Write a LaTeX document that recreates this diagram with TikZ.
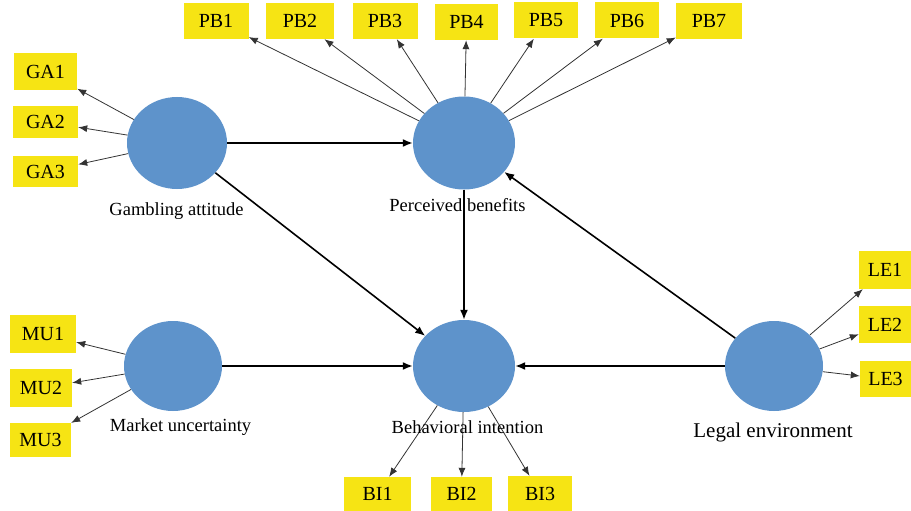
\documentclass[tikz,border=0pt]{standalone}
\usepackage{fontspec}
\setmainfont{Liberation Serif}
\usetikzlibrary{arrows.meta,shapes.geometric}
\definecolor{boxyellow}{RGB}{246,228,20}
\definecolor{latentblue}{RGB}{94,147,203}
\begin{document}
\begin{tikzpicture}[x=1pt,y=-1pt,
  indicator/.style={rectangle,fill=boxyellow,inner sep=0pt,minimum width=65pt,minimum height=36pt,font=\fontsize{20}{22}\selectfont},
  latent/.style={ellipse,fill=latentblue,inner sep=0pt},
  lvlabel/.style={anchor=base,inner sep=0pt,font=\fontsize{18.5}{20}\selectfont},
  structpath/.style={draw=black,line width=1.6pt,-{Latex[length=10pt,width=8pt]}},
  load/.style={draw=black!80,line width=0.8pt,-{Latex[length=9pt,width=7pt]}}
]
\useasboundingbox (0,0) rectangle (911,511);
% latent variables
\node[latent,minimum width=100pt,minimum height=92pt] (GA) at (177,143) {};
\node[latent,minimum width=102pt,minimum height=93pt] (PB) at (464,143) {};
\node[latent,minimum width=98pt,minimum height=90pt] (MU) at (173,366) {};
\node[latent,minimum width=102pt,minimum height=92pt] (BI) at (464,366) {};
\node[latent,minimum width=98pt,minimum height=90pt] (LE) at (774,366) {};
% indicators
\node[indicator] (PB1) at (216,21) {PB1};
\node[indicator,minimum width=68pt] (PB2) at (300,21) {PB2};
\node[indicator] (PB3) at (385,21) {PB3};
\node[indicator,minimum width=63pt] (PB4) at (466.5,22) {PB4};
\node[indicator,minimum width=64pt] (PB5) at (546,20.5) {PB5};
\node[indicator,minimum width=64pt] (PB6) at (627,20.5) {PB6};
\node[indicator,minimum width=66pt] (PB7) at (709,21) {PB7};
\node[indicator,minimum width=63pt,minimum height=37pt] (GA1) at (45.5,71.5) {GA1};
\node[indicator,minimum height=32pt] (GA2) at (45.5,122) {GA2};
\node[indicator,minimum height=31pt] (GA3) at (45.5,171.5) {GA3};
\node[indicator,minimum width=66pt,minimum height=38pt] (MU1) at (43,334) {MU1};
\node[indicator,minimum width=62pt,minimum height=38pt] (MU2) at (41,388) {MU2};
\node[indicator,minimum width=61pt,minimum height=34pt] (MU3) at (40.5,440) {MU3};
\node[indicator,minimum width=67pt,minimum height=34pt] (BI1) at (377.5,494) {BI1};
\node[indicator,minimum width=61pt,minimum height=34pt] (BI2) at (461.5,494) {BI2};
\node[indicator,minimum width=64pt,minimum height=35pt] (BI3) at (540,493.5) {BI3};
\node[indicator,minimum width=52pt,minimum height=38pt] (LE1) at (885,270) {LE1};
\node[indicator,minimum width=52pt,minimum height=37pt] (LE2) at (885,324.5) {LE2};
\node[indicator,minimum width=51pt,minimum height=36pt] (LE3) at (885.5,379) {LE3};
% loadings
\foreach \i in {1,...,7} {\draw[load] (PB) -- (PB\i);}
\foreach \i in {1,2,3} {
  \draw[load] (GA) -- (GA\i);
  \draw[load] (MU) -- (MU\i);
  \draw[load] (BI) -- (BI\i);
  \draw[load] (LE) -- (LE\i);
}
% structural paths
\draw[structpath] (GA) -- (PB);
\draw[structpath] (GA) -- (BI);
\draw[structpath] (PB) -- (BI);
\draw[structpath] (LE) -- (PB);
\draw[structpath] (MU) -- (BI);
\draw[structpath] (LE) -- (BI);
% labels
\node[lvlabel] (GAl) at (176.5,215) {Gambling attitude};
\node[lvlabel] (PBl) at (457.5,211) {Perceived benefits};
\node[lvlabel] (MUl) at (180.5,431) {Market uncertainty};
\node[lvlabel] (BIl) at (467.5,433) {Behavioral intention};
\node[lvlabel,font=\fontsize{21}{23}\selectfont] (LEl) at (773,437) {Legal environment};
\end{tikzpicture}
\end{document}
